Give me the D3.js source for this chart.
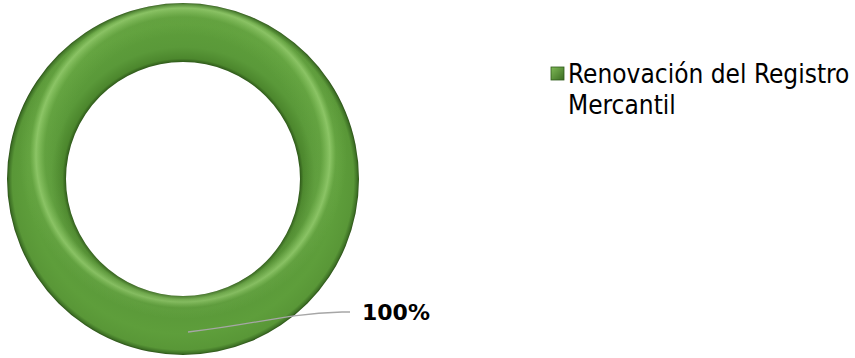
<!DOCTYPE html>
<html>
<head>
<meta charset="utf-8">
<script src="https://cdn.jsdelivr.net/npm/d3@7"></script>
<style>
  body { margin: 0; background: #fff; }
  svg { display: block; }
</style>
</head>
<body>
<div id="chart"></div>
<script>
const width = 855;
const height = 358;

// data
const categories = ["Renovación del Registro Mercantil"];
const values = [100];
const legendLines = [["Renovación del Registro", "Mercantil"]];

const cx = 183, cy = 179;
const outerR = 176, innerR = 117;

const svg = d3.select("#chart")
    .append("svg")
    .attr("width", width)
    .attr("height", height);

const defs = svg.append("defs");

// tube shading, dark at both rims (centered on the translated ring group)
const base = defs.append("radialGradient")
    .attr("id", "ringBase")
    .attr("gradientUnits", "userSpaceOnUse")
    .attr("cx", 0).attr("cy", 0).attr("r", outerR);
[
    [innerR / outerR, "#2f5a1a"],
    [innerR / outerR + 0.02, "#4c872d"],
    [0.75, "#5a9939"],
    [0.88, "#5e9e3b"],
    [0.97, "#599737"],
    [0.99, "#3f7326"],
    [1, "#2a4f16"]
].forEach(s => base.append("stop").attr("offset", s[0]).attr("stop-color", s[1]));

// light band from above: near outer edge at top, near inner edge at bottom
const shine = defs.append("radialGradient")
    .attr("id", "ringShine")
    .attr("gradientUnits", "userSpaceOnUse")
    .attr("cx", 0).attr("cy", -24).attr("r", 200);
[
    [0.6, "#b8f08a", 0],
    [0.69, "#b8f08a", 0.08],
    [0.735, "#c4f59a", 0.45],
    [0.765, "#b8f08a", 0.08],
    [0.82, "#b8f08a", 0]
].forEach(s => shine.append("stop").attr("offset", s[0])
    .attr("stop-color", s[1]).attr("stop-opacity", s[2]));

const legendGrad = defs.append("linearGradient")
    .attr("id", "legendGrad")
    .attr("x1", 0).attr("y1", 0).attr("x2", 1).attr("y2", 1);
legendGrad.append("stop").attr("offset", 0).attr("stop-color", "#7fba56");
legendGrad.append("stop").attr("offset", 1).attr("stop-color", "#3b6c22");

const pie = d3.pie().sort(null).value(d => d);
const arcs = pie(values);

const arc = d3.arc()
    .innerRadius(innerR)
    .outerRadius(outerR);

const ring = svg.append("g")
    .attr("transform", `translate(${cx},${cy})`);

ring.selectAll("path.slice")
    .data(arcs)
    .enter().append("path")
    .attr("class", "slice")
    .attr("d", arc)
    .attr("fill", "url(#ringBase)");

ring.selectAll("path.shine")
    .data(arcs)
    .enter().append("path")
    .attr("class", "shine")
    .attr("d", arc)
    .attr("fill", "url(#ringShine)");

// data label with leader line
const labelArc = d3.arc().innerRadius(153).outerRadius(153);
const total = d3.sum(values);

arcs.forEach(d => {
    const [sx, sy] = labelArc.centroid(d);
    const x0 = cx + sx + 5, y0 = cy + sy;
    const x1 = 342, y1 = 312, x2 = 350;
    svg.append("path")
        .attr("d", `M${x0},${y0} C${x0 + 70},${y0 - 8} ${x1 - 60},${y1 + 2} ${x1},${y1} L${x2},${y1}`)
        .attr("fill", "none")
        .attr("stroke", "#a6a6a6")
        .attr("stroke-width", 1.3);
    svg.append("text")
        .attr("x", 362)
        .attr("y", 320)
        .attr("font-family", "DejaVu Sans, Verdana, sans-serif")
        .attr("font-weight", "bold")
        .attr("font-size", 22)
        .attr("fill", "#000")
        .text(Math.round(d.data / total * 100) + "%");
});

// legend
const legend = svg.append("g").attr("transform", "translate(551,67)");
categories.forEach((c, i) => {
    legend.append("rect")
        .attr("x", 0).attr("y", 0)
        .attr("width", 13).attr("height", 13)
        .attr("fill", "url(#legendGrad)")
        .attr("stroke", "#2f5a1a")
        .attr("stroke-width", 0.8);
    const t = legend.append("text")
        .attr("x", 17)
        .attr("y", 16)
        .attr("font-family", "DejaVu Sans Condensed, DejaVu Sans, sans-serif")
        .attr("font-stretch", "condensed")
        .attr("font-size", 26)
        .attr("fill", "#000");
    legendLines[i].forEach((line, j) => {
        t.append("tspan")
            .attr("x", 17)
            .attr("dy", j === 0 ? 0 : 31)
            .text(line);
    });
});
</script>
</body>
</html>
